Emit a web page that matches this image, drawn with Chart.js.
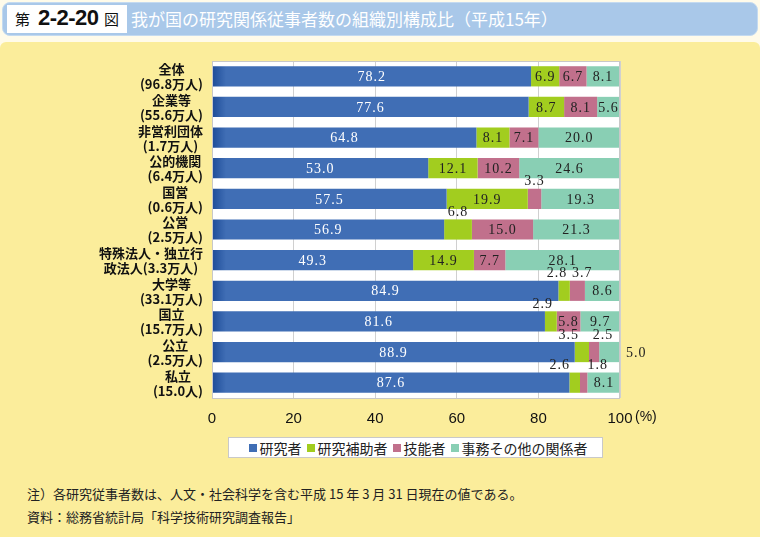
<!DOCTYPE html>
<html>
<head>
<meta charset="utf-8">
<script src="https://cdn.jsdelivr.net/npm/chart.js@4.4.0/dist/chart.umd.min.js"></script>
<style>
    body { margin: 0; width: 760px; height: 537px; background: #fffbea; overflow: hidden; position: relative;
           font-family: "Noto Sans CJK JP", sans-serif; }
    #head { position: absolute; left: 2px; top: 2px; width: 754px; height: 32px; background: #a9c8e9;
            border: 1px solid #c4daf0; border-radius: 8px; }
    #num { position: absolute; left: 4px; top: 2px; width: 120px; height: 28px; background: #fff;
           color: #111; white-space: nowrap; }
    #num .a { position: absolute; left: 8px; top: 3px; font-size: 15px; }
    #num .b { position: absolute; left: 31px; top: 0px; font: bold 22px "Liberation Sans", sans-serif; letter-spacing: -0.5px; }
    #num .c { position: absolute; left: 97px; top: 3px; font-size: 15px; }
    #title { position: absolute; left: 128px; top: 3px; color: #fff; font-size: 17px; white-space: nowrap; }
    #panel { position: absolute; left: 0; top: 42px; width: 760px; height: 495px; background: #fbed9b;
             border-radius: 6px 6px 0 0; }
    #wrap { position: absolute; left: 0; top: 45px; width: 760px; height: 390px; }
    #legend { position: absolute; left: 228px; top: 437px; width: 373px; height: 19px; background: #fff;
              border: 1px solid #c9c9c9; display: flex; justify-content: center; align-items: center;
              font-size: 14px; color: #222; white-space: nowrap; }
    #legend span.sq { display: inline-block; width: 8px; height: 8px; margin: 0 3px 0 5px; }
    .note { position: absolute; left: 27px; font-size: 13px; color: #222; white-space: nowrap; }
</style>
</head>
<body>
<div id="head">
    <div id="num"><span class="a">第</span><span class="b">2-2-20</span><span class="c">図</span></div>
    <div id="title">我が国の研究関係従事者数の組織別構成比（平成15年）</div>
</div>
<div id="panel"></div>
<div id="wrap"><canvas id="orgChart"></canvas></div>
<div id="legend"></div>
<div class="note" style="top:484px">注）各研究従事者数は、人文・社会科学を含む平成 15 年 3 月 31 日現在の値である。</div>
<div class="note" style="top:507px">資料：総務省統計局「科学技術研究調査報告」</div>

<script>
var categories = [
    ['全体', '(96.8万人)'],
    ['企業等', '(55.6万人)'],
    ['非営利団体', '(1.7万人)'],
    ['公的機関', '(6.4万人)'],
    ['国営', '(0.6万人)'],
    ['公営', '(2.5万人)'],
    ['特殊法人・独立行', '政法人(3.3万人)'],
    ['大学等', '(33.1万人)'],
    ['国立', '(15.7万人)'],
    ['公立', '(2.5万人)'],
    ['私立', '(15.0人)']
];
var seriesNames = ['研究者', '研究補助者', '技能者', '事務その他の関係者'];
var researchers = [78.2, 77.6, 64.8, 53.0, 57.5, 56.9, 49.3, 84.9, 81.6, 88.9, 87.6];
var assistants  = [6.9, 8.7, 8.1, 12.1, 19.9, 6.8, 14.9, 2.8, 2.9, 3.5, 2.6];
var technicians = [6.7, 8.1, 7.1, 10.2, 3.3, 15.0, 7.7, 3.7, 5.8, 2.5, 1.8];
var clerical    = [8.1, 5.6, 20.0, 24.6, 19.3, 21.3, 28.1, 8.6, 9.7, 5.0, 8.1];
var xTicks = [0, 20, 40, 60, 80, 100];

// labels drawn outside the bar: [row, series, where, nudge]
var outsideLabels = [[4, 2, 'top', 0], [5, 1, 'top', 0], [7, 1, 'top', -7], [7, 2, 'top', 5],
                     [8, 1, 'top', -8], [9, 1, 'top', -13], [9, 2, 'top', 9], [9, 3, 'right', 0],
                     [10, 1, 'top', -15], [10, 2, 'top', 14]];

var colors = ['#406eb5', '#a2cd1f', '#c1708c', '#89cfb4'];

function blueFill(c) {
    var area = c.chart.chartArea;
    if (!area) return colors[0];
    var g = c.chart.ctx.createLinearGradient(area.left, 0, area.left + 14, 0);
    g.addColorStop(0, '#1d4c98');
    g.addColorStop(1, colors[0]);
    return g;
}

var plotBg = {
    id: 'plotBg',
    beforeDraw: function(chart) {
        var a = chart.chartArea, ctx = chart.ctx;
        ctx.save();
        ctx.fillStyle = '#fff';
        ctx.fillRect(a.left, a.top, a.right - a.left, a.bottom - a.top);
        ctx.restore();
    },
    afterDraw: function(chart) {
        var a = chart.chartArea, ctx = chart.ctx;
        ctx.save();
        ctx.strokeStyle = '#c8c8c8';
        ctx.lineWidth = 1;
        ctx.strokeRect(a.left + 0.5, a.top + 0.5, a.right - a.left - 1, a.bottom - a.top);
        ctx.restore();
    }
};

var labelsPlugin = {
    id: 'barLabels',
    afterDatasetsDraw: function(chart) {
        var ctx = chart.ctx;
        ctx.save();
        ctx.font = '14px "Liberation Serif", serif';
        ctx.letterSpacing = '1px';
        ctx.textBaseline = 'middle';
        chart.data.datasets.forEach(function(ds, si) {
            chart.getDatasetMeta(si).data.forEach(function(el, ri) {
                var where = 'in', nudge = 0;
                outsideLabels.forEach(function(o) {
                    if (o[0] === ri && o[1] === si) { where = o[2]; nudge = o[3]; }
                });
                var txt = ds.data[ri].toFixed(1);
                var cx = (el.x + el.base) / 2 + nudge, cy = el.y + 1;
                ctx.textAlign = 'center';
                ctx.fillStyle = (si === 0) ? '#fff' : '#222';
                if (where === 'top') { cy = el.y - el.height / 2 - 7; ctx.fillStyle = '#222'; }
                if (where === 'right') { cx = chart.chartArea.right + 6; ctx.textAlign = 'left'; ctx.fillStyle = '#222'; }
                ctx.fillText(txt, cx, cy);
            });
        });
        ctx.restore();

        // category labels, two lines centered inside a right aligned block
        var ys = chart.scales.y;
        ctx.save();
        ctx.font = 'bold 13px "Noto Sans CJK JP", sans-serif';
        ctx.fillStyle = '#111';
        ctx.textAlign = 'center';
        ctx.textBaseline = 'middle';
        categories.forEach(function(lines, i) {
            var y = ys.getPixelForTick(i);
            var w = Math.max(ctx.measureText(lines[0]).width, ctx.measureText(lines[1]).width);
            var cx = 203 - w / 2;
            ctx.fillText(lines[0], cx, y - 7);
            ctx.fillText(lines[1], cx, y + 8);
        });
        ctx.restore();

        // unit after last tick
        var xs = chart.scales.x;
        ctx.save();
        ctx.font = '14px "Liberation Sans", sans-serif';
        ctx.fillStyle = '#111';
        ctx.textBaseline = 'middle';
        ctx.fillText('(%)', xs.getPixelForValue(100) + 15, xs.top + 19);
        ctx.restore();
    }
};

document.addEventListener('DOMContentLoaded', function() {
    var seriesData = [researchers, assistants, technicians, clerical];
    var datasets = seriesData.map(function(d, i) {
        return {
            label: seriesNames[i],
            data: d,
            backgroundColor: i === 0 ? blueFill : colors[i],
            borderWidth: 0,
            barPercentage: 0.66,
            categoryPercentage: 1
        };
    });

    var legend = document.getElementById('legend');
    seriesNames.forEach(function(n, i) {
        legend.innerHTML += '<span class="sq" style="background:' + colors[i] + '"></span>' + n;
    });

    var ctx = document.getElementById('orgChart').getContext('2d');
    new Chart(ctx, {
        type: 'bar',
        data: { labels: categories.map(function(c) { return c.join(''); }), datasets: datasets },
        options: {
            indexAxis: 'y',
            responsive: true,
            maintainAspectRatio: false,
            animation: false,
            layout: { padding: { top: 16, right: 140, left: 0, bottom: 0 } },
            plugins: { legend: { display: false }, tooltip: { enabled: false } },
            scales: {
                x: {
                    stacked: true,
                    min: 0,
                    max: 100,
                    afterBuildTicks: function(s) { s.ticks = xTicks.map(function(v) { return { value: v }; }); },
                    afterFit: function(s) { s.height = 37; },
                    grid: { color: '#d0d0d0', drawTicks: false },
                    border: { display: false },
                    ticks: { padding: 12, color: '#111', font: { family: 'Liberation Sans', size: 15 } }
                },
                y: {
                    stacked: true,
                    afterFit: function(s) { s.width = 212; },
                    grid: { display: false },
                    border: { display: false },
                    ticks: { display: false }
                }
            }
        },
        plugins: [plotBg, labelsPlugin]
    });
});
</script>
</body>
</html>
